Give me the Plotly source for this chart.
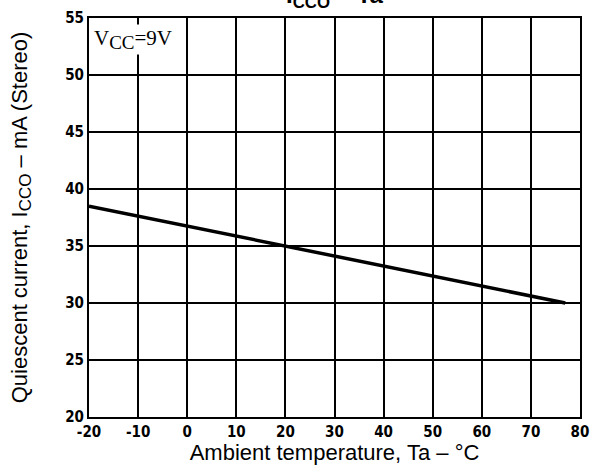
import plotly.graph_objects as go

# Quiescent current vs ambient temperature (Vcc = 9 V, stereo)
temp_c = [-20, 20, 77]
icco_ma = [38.5, 35.0, 30.0]

x_ticks = [-20, -10, 0, 10, 20, 30, 40, 50, 60, 70, 80]
y_ticks = [20, 25, 30, 35, 40, 45, 50, 55]

tick_font = dict(family="Liberation Sans Narrow, DejaVu Sans Condensed, Arial", size=15,
                 color="black", weight="bold")
label_font = dict(family="Liberation Sans, Arial", size=22, color="black")

fig = go.Figure()
fig.add_trace(go.Scatter(
    x=temp_c, y=icco_ma, mode="lines",
    line=dict(color="black", width=3.5),
    showlegend=False, hoverinfo="skip",
))

fig.update_xaxes(
    range=[-20, 80], tickvals=x_ticks, ticktext=[str(v) for v in x_ticks],
    showgrid=True, gridcolor="black", gridwidth=2,
    showline=True, linecolor="black", linewidth=2, mirror=True,
    zeroline=False, ticks="", tickfont=tick_font, ticklen=0,
    title=dict(text="Ambient temperature, Ta \u2013 \u00b0C", font=label_font, standoff=0),
)
fig.update_yaxes(
    range=[20, 55], tickvals=y_ticks, ticktext=[str(v) for v in y_ticks],
    showgrid=True, gridcolor="black", gridwidth=2,
    showline=True, linecolor="black", linewidth=2, mirror=True,
    zeroline=False, ticks="", tickfont=tick_font, ticklen=0,
    title=dict(text="Quiescent current, I<sub><span style='font-size:17px'>CCO</span></sub>"
                    " \u2013 mA (Stereo)",
               font=label_font, standoff=32),
)

# Supply voltage label in the top-left cell
fig.add_annotation(
    x=0.006, y=0.985, xref="paper", yref="paper", xanchor="left", yanchor="top",
    text="V<sub><span style='font-size:19px'>CC</span></sub>=9V", showarrow=False,
    bgcolor="white",
    font=dict(family="Liberation Serif, Times New Roman", size=21, color="black"),
    borderpad=1,
)

# Chart heading, partly above the page edge
fig.add_annotation(
    x=0.5, y=1.0, xref="paper", yref="paper", xanchor="center", yanchor="bottom",
    yshift=4,
    text="I<sub>CCO</sub> \u2013 Ta", showarrow=False,
    font=dict(family="Liberation Sans, Arial", size=24, color="black", weight="bold"),
)

fig.update_layout(
    width=598, height=465,
    margin=dict(l=89, r=9, t=15, b=45),
    plot_bgcolor="white", paper_bgcolor="white",
)

fig.write_html("out.html")
